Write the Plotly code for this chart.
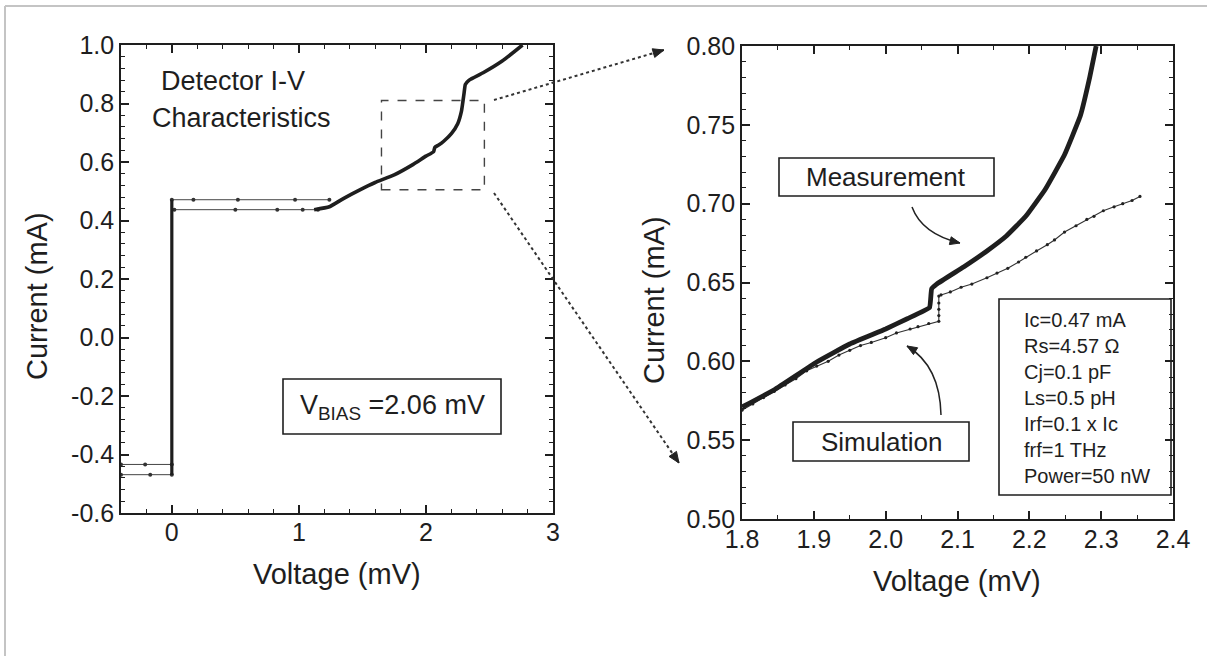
import plotly.graph_objects as go

# ---------------- data ----------------
# Left panel: detector I-V characteristics
neg_hi_v = [-0.40, -0.21, 0.00]
neg_hi_i = [-0.434, -0.434, -0.434]
neg_lo_v = [-0.40, -0.17, 0.00]
neg_lo_i = [-0.469, -0.469, -0.469]
super_v = [0.00, 0.00]
super_i = [-0.470, 0.471]
plat_hi_v = [0.00, 0.17, 0.52, 0.97, 1.24]
plat_hi_i = [0.471, 0.471, 0.471, 0.471, 0.471]
plat_lo_v = [0.02, 0.50, 0.83, 1.03, 1.15]
plat_lo_i = [0.437, 0.437, 0.437, 0.437, 0.437]
gap_v = [1.12, 1.24, 1.35, 1.48, 1.60, 1.75, 1.90, 2.00, 2.06, 2.07, 2.10, 2.14,
         2.20, 2.25, 2.28, 2.30, 2.31, 2.34, 2.45, 2.60, 2.76]
gap_i = [0.437, 0.447, 0.475, 0.505, 0.530, 0.556, 0.592, 0.620, 0.635, 0.650, 0.658, 0.671,
         0.697, 0.731, 0.775, 0.835, 0.865, 0.880, 0.905, 0.945, 1.000]
zoom_v = [1.65, 2.46]
zoom_i = [0.505, 0.81]

# Right panel: measurement vs simulation
meas_v = [1.800, 1.845, 1.904, 1.950, 2.000, 2.030, 2.061, 2.064, 2.071, 2.109, 2.141,
          2.168, 2.195, 2.222, 2.249, 2.271, 2.284, 2.293]
meas_i = [0.571, 0.582, 0.5996, 0.611, 0.6205, 0.627, 0.634, 0.646, 0.649, 0.660, 0.670,
          0.6795, 0.692, 0.709, 0.731, 0.7557, 0.780, 0.800]
sim_v = [1.800, 1.815, 1.830, 1.845, 1.860, 1.875, 1.890, 1.904, 1.920, 1.935, 1.950,
         1.965, 1.980, 2.000, 2.015, 2.034, 2.045, 2.060, 2.074, 2.074, 2.074, 2.074,
         2.074, 2.077, 2.090, 2.105, 2.120, 2.141, 2.155, 2.170, 2.185, 2.195, 2.210,
         2.225, 2.235, 2.249, 2.265, 2.280, 2.290, 2.303, 2.318, 2.330, 2.343, 2.354]
sim_i = [0.569, 0.573, 0.577, 0.581, 0.585, 0.589, 0.594, 0.597, 0.600, 0.604, 0.607,
         0.610, 0.612, 0.615, 0.618, 0.6205, 0.622, 0.624, 0.6254, 0.629, 0.633, 0.637,
         0.6414, 0.6421, 0.644, 0.647, 0.649, 0.653, 0.656, 0.659, 0.663, 0.666, 0.670,
         0.674, 0.677, 0.682, 0.686, 0.690, 0.692, 0.6955, 0.698, 0.700, 0.702, 0.7046]

params = ["Ic=0.47 mA", "Rs=4.57 \u03a9", "Cj=0.1 pF", "Ls=0.5 pH",
          "Irf=0.1 x Ic", "frf=1 THz", "Power=50 nW"]

# tick values / labels
left_x_ticks = [0, 1, 2, 3]
left_x_labels = ["0", "1", "2", "3"]
left_y_ticks = [-0.6, -0.4, -0.2, 0.0, 0.2, 0.4, 0.6, 0.8, 1.0]
left_y_labels = ["-0.6", "-0.4", "-0.2", "0.0", "0.2", "0.4", "0.6", "0.8", "1.0"]
right_x_ticks = [1.8, 1.9, 2.0, 2.1, 2.2, 2.3, 2.4]
right_x_labels = ["1.8", "1.9", "2.0", "2.1", "2.2", "2.3", "2.4"]
right_y_ticks = [0.50, 0.55, 0.60, 0.65, 0.70, 0.75, 0.80]
right_y_labels = ["0.50", "0.55", "0.60", "0.65", "0.70", "0.75", "0.80"]

# ---------------- layout helpers ----------------
W, H = 1207, 656
FONT = "Liberation Sans, Arial, sans-serif"
INK = "#1e1e1e"


def px(x):
    return x / W


def py(y):
    return 1 - y / H


fig = go.Figure()

thin = dict(color="#444", width=1)
for xs, ys in [(neg_hi_v, neg_hi_i), (neg_lo_v, neg_lo_i),
               (plat_hi_v, plat_hi_i), (plat_lo_v, plat_lo_i)]:
    fig.add_trace(go.Scatter(x=xs, y=ys, mode="lines+markers", line=thin,
                             marker=dict(size=4, color="#333"), xaxis="x", yaxis="y"))
fig.add_trace(go.Scatter(x=super_v, y=super_i, mode="lines",
                         line=dict(color=INK, width=3.2), xaxis="x", yaxis="y"))
fig.add_trace(go.Scatter(x=gap_v, y=gap_i, mode="lines",
                         line=dict(color=INK, width=3.6, shape="spline", smoothing=0.4),
                         xaxis="x", yaxis="y"))

fig.add_trace(go.Scatter(x=sim_v, y=sim_i, mode="lines+markers",
                         line=dict(color="#333", width=1.1),
                         marker=dict(size=3.2, color="#222"), xaxis="x2", yaxis="y2"))
fig.add_trace(go.Scatter(x=meas_v, y=meas_i, mode="lines",
                         line=dict(color=INK, width=4.8, shape="spline", smoothing=0.3),
                         xaxis="x2", yaxis="y2"))

axis_common = dict(showline=True, linewidth=1.6, linecolor=INK, mirror="ticks",
                   ticks="inside", ticklen=8, tickwidth=1.5, tickcolor=INK,
                   showgrid=False, zeroline=False, automargin=False,
                   tickmode="array",
                   tickfont=dict(family=FONT, size=25, color=INK))

fig.update_layout(
    width=W, height=H,
    margin=dict(l=0, r=0, t=0, b=0, pad=0, autoexpand=False),
    paper_bgcolor="white", plot_bgcolor="white",
    showlegend=False,
    xaxis=dict(domain=[px(121), px(553)], range=[-0.4, 3.0],
               tickvals=left_x_ticks, ticktext=left_x_labels, ticklabelstandoff=-4,
               minor=dict(ticks="inside", ticklen=4.5, dtick=0.2, tick0=0,
                          tickwidth=1.2, tickcolor=INK),
               anchor="y", **axis_common),
    yaxis=dict(domain=[py(513), py(45)], range=[-0.6, 1.0],
               tickvals=left_y_ticks, ticktext=left_y_labels,
               minor=dict(ticks="inside", ticklen=4.5, dtick=0.04, tick0=0,
                          tickwidth=1.2, tickcolor=INK),
               anchor="x", **axis_common),
    xaxis2=dict(domain=[px(742), px(1173)], range=[1.8, 2.4],
                tickvals=right_x_ticks, ticktext=right_x_labels, ticklabelstandoff=-3,
                minor=dict(ticks="inside", ticklen=4.5, dtick=0.05, tick0=1.8,
                           tickwidth=1.2, tickcolor=INK),
                anchor="y2", **axis_common),
    yaxis2=dict(domain=[py(519), py(46)], range=[0.5, 0.8],
                tickvals=right_y_ticks, ticktext=right_y_labels,
                minor=dict(ticks="inside", ticklen=4.5, dtick=0.01, tick0=0.5,
                           tickwidth=1.2, tickcolor=INK),
                anchor="x2", **axis_common),
)

shapes = []
annos = []

# light page border (top and left)
shapes.append(dict(type="line", xref="paper", yref="paper", x0=px(5), y0=py(6), x1=1, y1=py(6),
                   line=dict(color="#c4c4c4", width=2)))
shapes.append(dict(type="line", xref="paper", yref="paper", x0=px(5), y0=py(6), x1=px(5), y1=0,
                   line=dict(color="#c4c4c4", width=2)))

# zoom window on the left panel
shapes.append(dict(type="rect", xref="x", yref="y", x0=zoom_v[0], x1=zoom_v[1],
                   y0=zoom_i[0], y1=zoom_i[1], line=dict(color="#444", width=1.4, dash="dash")))


def arrow_head(x1, y1, dx, dy, length=11, half=4.5):
    n = (dx * dx + dy * dy) ** 0.5
    ux, uy = dx / n, dy / n
    bx, by = x1 - ux * length, y1 - uy * length
    pxl, pyl = bx - uy * half, by + ux * half
    pxr, pyr = bx + uy * half, by - ux * half
    path = "M {} {} L {} {} L {} {} Z".format(px(x1), py(y1), px(pxl), py(pyl), px(pxr), py(pyr))
    return dict(type="path", xref="paper", yref="paper", path=path,
                fillcolor="#222", line=dict(color="#222", width=1))


# dotted connectors
for (x0, y0, x1, y1) in [(494, 100, 664, 50), (494, 193, 679, 463)]:
    shapes.append(dict(type="line", xref="paper", yref="paper",
                       x0=px(x0), y0=py(y0), x1=px(x1), y1=py(y1),
                       line=dict(color="#333", width=2, dash="dot")))
    shapes.append(arrow_head(x1, y1, x1 - x0, y1 - y0))

# curved pointer arrows
for (s, c, e) in [((912, 207), (922, 234), (960, 243)),
                  ((941, 415), (940, 366), (907, 346))]:
    path = "M {} {} Q {} {} {} {}".format(px(s[0]), py(s[1]), px(c[0]), py(c[1]), px(e[0]), py(e[1]))
    shapes.append(dict(type="path", xref="paper", yref="paper", path=path,
                       line=dict(color="#222", width=1.5)))
    shapes.append(arrow_head(e[0], e[1], e[0] - c[0], e[1] - c[1], length=10, half=4))

# boxes
for (x0, y0, x1, y1) in [(283, 379, 501, 434), (779, 158, 994, 196),
                         (793, 422, 969, 461), (999, 299, 1171, 495)]:
    shapes.append(dict(type="rect", xref="paper", yref="paper",
                       x0=px(x0), y0=py(y0), x1=px(x1), y1=py(y1),
                       line=dict(color=INK, width=1.6), fillcolor="rgba(0,0,0,0)"))


def text(x, y, s, size, xanchor="center", angle=0, align="center"):
    annos.append(dict(x=px(x), y=py(y), xref="paper", yref="paper", text=s, showarrow=False,
                      xanchor=xanchor, yanchor="middle", textangle=angle, align=align,
                      font=dict(family=FONT, size=size, color=INK)))


text(37, 296, "Current (mA)", 29, angle=-90)
text(654, 300, "Current (mA)", 29, angle=-90)
text(337, 574, "Voltage (mV)", 29)
text(957, 581, "Voltage (mV)", 29)
text(159, 81, "Detector I-V", 27, xanchor="left")
text(150, 118, "Characteristics", 27, xanchor="left")
text(392, 407, "V<sub>BIAS</sub> =2.06 mV", 27)
text(886, 177, "Measurement", 26)
text(881, 442, "Simulation", 26)
text(1022, 398, "<br>".join(params), 20, xanchor="left", align="left")

fig.update_layout(shapes=shapes, annotations=annos)
fig.write_html("out.html")
